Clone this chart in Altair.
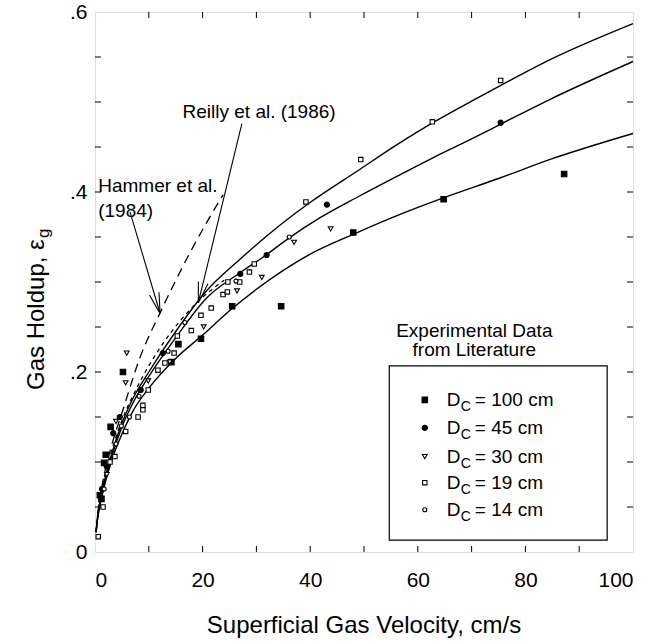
import math
import altair as alt
import pandas as pd

# ---------------- data ----------------
# model curves (superficial gas velocity cm/s, gas holdup)
top_x = [0.2, 0.5, 1, 2, 3, 5, 7, 10, 15, 20.7, 26.9, 33.1, 39.2, 49.2, 56, 62.8, 70, 75.6, 84.6, 100]
top_y = [0.022, 0.04, 0.058, 0.085, 0.107, 0.143, 0.17, 0.2, 0.245, 0.29, 0.325, 0.357, 0.385, 0.425, 0.452, 0.477, 0.501, 0.519, 0.547, 0.587]
mid_x = [0.2, 0.5, 1, 2, 3, 5, 7, 10, 15, 20.7, 26.9, 31.8, 36.1, 42, 49, 56, 62.8, 70, 75.6, 84.6, 100]
mid_y = [0.022, 0.039, 0.057, 0.083, 0.104, 0.139, 0.165, 0.195, 0.238, 0.282, 0.31, 0.33, 0.349, 0.372, 0.395, 0.417, 0.438, 0.459, 0.476, 0.503, 0.545]
bot_x = [0.2, 0.5, 1, 2, 3, 5, 7, 10, 15, 20, 25, 30, 35, 40, 48, 55, 65, 75, 85, 100]
bot_y = [0.022, 0.037, 0.054, 0.079, 0.1, 0.131, 0.156, 0.182, 0.215, 0.241, 0.268, 0.292, 0.313, 0.331, 0.353, 0.371, 0.394, 0.415, 0.437, 0.465]
hammer_x = [0.2, 0.5, 1.2, 2.8, 5.2, 8.3, 12.2, 17.6, 23.8]
hammer_y = [0.022, 0.042, 0.07, 0.112, 0.158, 0.215, 0.267, 0.332, 0.397]
reilly_x = [0.2, 0.5, 1, 2, 3, 5, 8, 12, 16, 20, 24]
reilly_y = [0.022, 0.041, 0.062, 0.09, 0.111, 0.146, 0.185, 0.226, 0.258, 0.283, 0.302]

# experimental data
d100_x = [0.9, 1.2, 1.7, 2.0, 2.9, 5.2, 14.2, 15.5, 19.7, 25.5, 34.6, 48.0, 64.8, 87.2]
d100_y = [0.063, 0.059, 0.099, 0.108, 0.139, 0.2, 0.211, 0.231, 0.237, 0.273, 0.273, 0.355, 0.392, 0.42]
d45_x = [1.3, 2.2, 3.4, 4.6, 8.5, 12.6, 27.0, 31.9, 43.1, 75.4]
d45_y = [0.07, 0.095, 0.132, 0.15, 0.18, 0.221, 0.309, 0.33, 0.386, 0.477]
d30_x = [2.2, 3.9, 5.7, 5.9, 9.9, 13.9, 20.2, 26.4, 31.0, 37.0, 43.8]
d30_y = [0.086, 0.145, 0.188, 0.221, 0.19, 0.211, 0.25, 0.29, 0.305, 0.344, 0.359]
d19_x = [0.6, 1.5, 2.8, 3.7, 5.7, 8.0, 8.9, 8.9, 9.9, 11.7, 13.0, 14.7, 15.3, 17.9, 19.7, 21.6, 23.8, 24.6, 24.7, 26.9, 28.7, 29.6, 39.2, 49.4, 62.7, 75.4]
d19_y = [0.017, 0.05, 0.1, 0.106, 0.134, 0.15, 0.158, 0.163, 0.18, 0.202, 0.21, 0.221, 0.24, 0.246, 0.263, 0.271, 0.286, 0.289, 0.3, 0.3, 0.311, 0.32, 0.389, 0.436, 0.478, 0.524]
d14_x = [1.7, 3.9, 4.9, 6.4, 8.2, 13.6, 16.7, 26.2, 36.1]
d14_y = [0.07, 0.12, 0.14, 0.15, 0.173, 0.223, 0.255, 0.301, 0.35]

series_names = ["100", "45", "30", "19", "14"]
legend_labels = ["= 100 cm", "= 45 cm", "= 30 cm", "= 19 cm", "= 14 cm"]

x_ticks = [0, 20, 40, 60, 80, 100]
y_ticks = [0, 0.2, 0.4, 0.6]
x_minor = [10, 20, 30, 40, 50, 60, 70, 80, 90]
y_minor = [0.05, 0.1, 0.15, 0.2, 0.25, 0.3, 0.35, 0.4, 0.45, 0.5, 0.55]

# annotations
hammer_text = ["Hammer et al.", "(1984)"]
reilly_text = ["Reilly et al. (1986)"]
legend_title = ["Experimental Data", "from Literature"]

# ---------------- layout ----------------
W, H = 538, 540
XMAX, YMAX = 100, 0.6
FONT = "Liberation Sans"

xs = alt.Scale(domain=[0, XMAX], nice=False, zero=False)
ys = alt.Scale(domain=[0, YMAX], nice=False, zero=False)
x_axis = alt.Axis(values=x_ticks, ticks=False, domain=False, grid=False, title=None,
                  labelFontSize=21, labelFont=FONT, labelColor="black", labelPadding=17,
                  labelExpr="datum.value")
y_axis = alt.Axis(values=y_ticks, ticks=False, domain=False, grid=False, title=None,
                  labelFontSize=21, labelFont=FONT, labelColor="black", labelPadding=8,
                  labelExpr="datum.value == 0 ? '0' : replace(format(datum.value, '.1f'), '0.', '.')")


def X(field="x"):
    return alt.X(f"{field}:Q", scale=xs, axis=x_axis)


def Y(field="y"):
    return alt.Y(f"{field}:Q", scale=ys, axis=y_axis)


def curve_df(xv, yv, name):
    return pd.DataFrame({"x": xv, "y": yv, "c": name})


solid = pd.concat([curve_df(top_x, top_y, "top"), curve_df(mid_x, mid_y, "mid"),
                   curve_df(bot_x, bot_y, "bot")])
solid_layer = alt.Chart(solid).mark_line(color="black", strokeWidth=1.4, interpolate="monotone").encode(
    x=X(), y=Y(), detail="c:N", order="x:Q")
hammer_layer = alt.Chart(curve_df(hammer_x, hammer_y, "h")).mark_line(
    color="black", strokeWidth=1.3, strokeDash=[9, 6], interpolate="monotone").encode(x=X(), y=Y(), order="x:Q")
reilly_layer = alt.Chart(curve_df(reilly_x, reilly_y, "r")).mark_line(
    color="black", strokeWidth=1.3, strokeDash=[4, 4], interpolate="monotone").encode(x=X(), y=Y(), order="x:Q")

pts = pd.concat([
    pd.DataFrame({"x": d100_x, "y": d100_y, "s": "100"}),
    pd.DataFrame({"x": d45_x, "y": d45_y, "s": "45"}),
    pd.DataFrame({"x": d30_x, "y": d30_y, "s": "30"}),
    pd.DataFrame({"x": d19_x, "y": d19_y, "s": "19"}),
    pd.DataFrame({"x": d14_x, "y": d14_y, "s": "14"}),
])
shape_scale = alt.Scale(domain=series_names, range=["square", "circle", "triangle-down", "square", "circle"])
fill_scale = alt.Scale(domain=series_names, range=["black", "black", "white", "white", "white"])
size_scale = alt.Scale(domain=series_names, range=[30, 16, 36, 38, 26])


def point_layer(df):
    return alt.Chart(df).mark_point(filled=True, stroke="black", strokeWidth=1.1, opacity=1).encode(
        x=X(), y=Y(),
        shape=alt.Shape("s:N", scale=shape_scale, legend=None),
        fill=alt.Fill("s:N", scale=fill_scale, legend=None),
        size=alt.Size("s:N", scale=size_scale, legend=None),
    )


points_layer = point_layer(pts)

# inward ticks on all four sides
xt = pd.DataFrame({"x": x_minor})
yt = pd.DataFrame({"y": y_minor})
tick_b = alt.Chart(xt).mark_rule(color="black", strokeWidth=1).encode(x=X(), y=alt.value(H), y2=alt.value(H - 6))
tick_t = alt.Chart(xt).mark_rule(color="black", strokeWidth=1).encode(x=X(), y=alt.value(0), y2=alt.value(6))
tick_l = alt.Chart(yt).mark_rule(color="black", strokeWidth=1).encode(y=Y(), x=alt.value(0), x2=alt.value(6))
tick_r = alt.Chart(yt).mark_rule(color="black", strokeWidth=1).encode(y=Y(), x=alt.value(W), x2=alt.value(W - 6))

# annotation arrows
arrows = pd.DataFrame({
    "x": [6.5, 27.3], "y": [0.378, 0.476],
    "x2": [12.1, 19.2], "y2": [0.265, 0.277],
})
sx, sy = W / XMAX, H / YMAX
angles = []
for i in range(len(arrows)):
    dxp = (arrows.x2[i] - arrows.x[i]) * sx
    dyp = -(arrows.y2[i] - arrows.y[i]) * sy
    angles.append(math.degrees(math.atan2(-dxp, dyp)) % 360)
arrows["ang"] = angles
arrow_lines = alt.Chart(arrows).mark_rule(color="black", strokeWidth=1.1).encode(
    x=X(), y=Y(), x2="x2:Q", y2="y2:Q")
arrow_heads = alt.Chart(arrows).mark_point(
    shape="M -0.24 -1 L 0 0 L 0.24 -1", filled=False, color="black", strokeWidth=1.1, size=1700, opacity=1
).encode(x=X("x2"), y=Y("y2"), angle=alt.Angle("ang:Q", scale=None))

txt = dict(font=FONT, fontSize=19, color="black")
hammer_df = pd.DataFrame({"x": [0.6, 0.6], "y": [0.407, 0.379], "t": hammer_text})
hammer_lbl = alt.Chart(hammer_df).mark_text(align="left", baseline="middle", **txt).encode(x=X(), y=Y(), text="t:N")
reilly_df = pd.DataFrame({"x": [30.5], "y": [0.489], "t": reilly_text})
reilly_lbl = alt.Chart(reilly_df).mark_text(align="center", baseline="middle", **txt).encode(x=X(), y=Y(), text="t:N")

# manual legend
lt_df = pd.DataFrame({"x": [70.5, 70.5], "y": [0.246, 0.224], "t": legend_title})
legend_title_lyr = alt.Chart(lt_df).mark_text(align="center", baseline="middle", **txt).encode(x=X(), y=Y(), text="t:N")
box_df = pd.DataFrame({"x": [54.7], "x2": [95.2], "y": [0.2067], "y2": [0.0133]})
legend_box = alt.Chart(box_df).mark_rect(fill=None, stroke="black", strokeWidth=1.2).encode(
    x=X(), x2="x2:Q", y=Y(), y2="y2:Q")
ent_y = [0.169, 0.138, 0.106, 0.077, 0.047]
leg_pts = pd.DataFrame({"x": [61.3] * 5, "y": ent_y, "s": series_names})
legend_marks = point_layer(leg_pts)
leg_txt = pd.DataFrame({"x": [65.4] * 5, "y": ent_y, "d": ["D"] * 5, "c": ["C"] * 5, "t": legend_labels})
leg_D = alt.Chart(leg_txt).mark_text(align="left", baseline="middle", **txt).encode(x=X(), y=Y(), text="d:N")
leg_C = alt.Chart(leg_txt).mark_text(align="left", baseline="middle", font=FONT, fontSize=14, color="black",
                                     dx=14, dy=7).encode(x=X(), y=Y(), text="c:N")
leg_T = alt.Chart(leg_txt).mark_text(align="left", baseline="middle", dx=28, **txt).encode(x=X(), y=Y(), text="t:N")

# axis titles (manual, for the subscript)
xt_df = pd.DataFrame({"t": ["Superficial Gas Velocity, cm/s"]})
x_title = alt.Chart(xt_df).mark_text(align="center", baseline="middle", font=FONT, fontSize=24, color="black").encode(
    x=alt.value(W / 2), y=alt.value(H + 74), text="t:N")
yt_df = pd.DataFrame({"t": ["Gas Holdup, \u03b5"]})
y_title = alt.Chart(yt_df).mark_text(align="left", baseline="middle", angle=270, font=FONT, fontSize=24,
                                     color="black").encode(x=alt.value(-58), y=alt.value(378), text="t:N")
yg_df = pd.DataFrame({"t": ["g"]})
y_title_g = alt.Chart(yg_df).mark_text(align="left", baseline="middle", angle=270, font=FONT, fontSize=17,
                                       color="black").encode(x=alt.value(-51), y=alt.value(226), text="t:N")

chart = alt.layer(
    solid_layer, hammer_layer, reilly_layer,
    tick_b, tick_t, tick_l, tick_r,
    arrow_lines, arrow_heads,
    points_layer,
    hammer_lbl, reilly_lbl,
    legend_title_lyr, legend_box, legend_marks, leg_D, leg_C, leg_T,
    x_title, y_title, y_title_g,
).properties(
    width=W, height=H,
    padding={"left": 95, "top": 12, "right": 23, "bottom": 91},
    autosize=alt.AutoSizeParams(type="none"),
).configure_view(stroke="black", strokeWidth=1.2).configure(background="white")

chart.save("out.html", embed_options={"renderer": "svg", "actions": False})
